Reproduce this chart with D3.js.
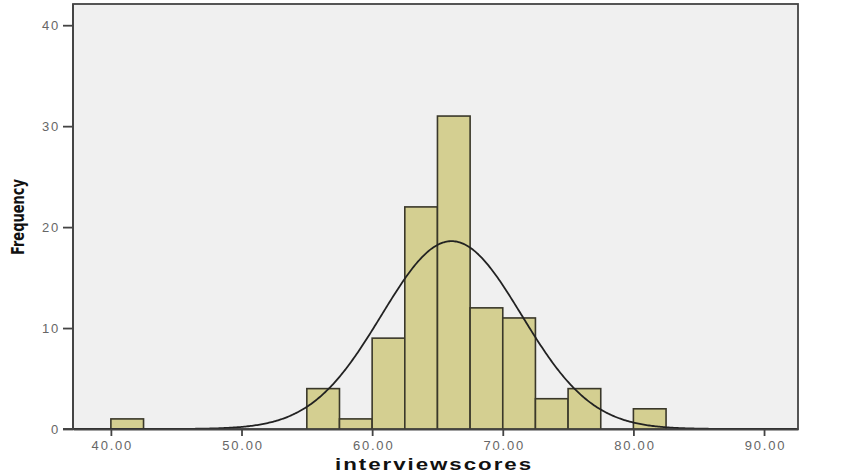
<!DOCTYPE html>
<html>
<head>
<meta charset="utf-8">
<script src="https://cdn.jsdelivr.net/npm/d3@7"></script>
<style>
  body { margin: 0; background: #fff; }
  svg text { font-family: "Liberation Sans", Arial, sans-serif; }
</style>
</head>
<body>
<div id="myChart"></div>
<script>
// histogram bins (lower edge, width 2.5) and counts
const binStarts = [40, 55, 57.5, 60, 62.5, 65, 67.5, 70, 72.5, 75, 80];
const counts = [1, 4, 1, 9, 22, 31, 12, 11, 3, 4, 2];
const binWidth = 2.5;
const xTicks = [40, 50, 60, 70, 80, 90];
const yTicks = [0, 10, 20, 30, 40];
const mean = 66.08, sd = 5.36, n = 100;

const W = 845, H = 474;
const margin = { top: 4, right: 47, bottom: 45, left: 73 },
  width = W - margin.left - margin.right,
  height = H - margin.top - margin.bottom;

const svg = d3.select("#myChart").append("svg")
  .attr("width", W).attr("height", H);
const g = svg.append("g")
  .attr("transform", "translate(" + margin.left + "," + margin.top + ")");

const x = d3.scaleLinear().domain([37.1, 92.6]).range([0, width]);
const y = d3.scaleLinear().domain([0, 42.1]).range([height, 0]);

// plot background + frame
g.append("rect")
  .attr("width", width).attr("height", height)
  .attr("fill", "#f0f0f0")
  .attr("stroke", "#444").attr("stroke-width", 1.8);

// bars
g.selectAll(".bar")
  .data(binStarts)
  .enter().append("rect")
  .attr("class", "bar")
  .attr("x", (d) => x(d))
  .attr("width", (d) => x(d + binWidth) - x(d))
  .attr("y", (d, i) => y(counts[i]))
  .attr("height", (d, i) => y(0) - y(counts[i]))
  .attr("fill", "#d4cf91")
  .attr("stroke", "#3a382a")
  .attr("stroke-width", 1.6);

// normal curve
const pts = d3.range(37.1, 92.6, 0.1).map((v) => [v,
  n * binWidth / (sd * Math.sqrt(2 * Math.PI)) * Math.exp(-0.5 * Math.pow((v - mean) / sd, 2))]);
g.append("path")
  .datum(pts)
  .attr("fill", "none")
  .attr("stroke", "#222")
  .attr("stroke-width", 1.8)
  .attr("d", d3.line().x((d) => x(d[0])).y((d) => y(d[1])));

// axes
const xAxis = g.append("g")
  .attr("transform", "translate(0," + height + ")")
  .call(d3.axisBottom(x).tickValues(xTicks).tickFormat(d3.format(".2f")).tickSize(7).tickSizeOuter(0));
const yAxis = g.append("g")
  .call(d3.axisLeft(y).tickValues(yTicks).tickSize(10).tickSizeOuter(0));

[xAxis, yAxis].forEach((a) => {
  a.select(".domain").attr("stroke", "#444").attr("stroke-width", 1.8);
  a.selectAll(".tick line").attr("stroke", "#444").attr("stroke-width", 1.8);
  a.selectAll("text")
    .attr("fill", "#666")
    .style("font-size", "13px")
    .style("letter-spacing", "1.8px")
    .style("font-family", "'Liberation Sans', Arial, sans-serif");
});
yAxis.select(".domain").attr("d", "M-10," + height + "H0V0");
xAxis.selectAll("text").attr("dy", "0.85em").attr("dx", "1px");
yAxis.selectAll("text").attr("dx", "0px");

// axis titles
svg.append("text")
  .attr("x", 434).attr("y", 470)
  .attr("text-anchor", "middle")
  .style("font-size", "17px")
  .style("font-weight", "bold")
  .style("letter-spacing", "1.5px")
  .attr("textLength", 198)
  .attr("lengthAdjust", "spacingAndGlyphs")
  .attr("fill", "#111")
  .text("interviewscores");

svg.append("text")
  .attr("transform", "translate(24,217) rotate(-90)")
  .attr("text-anchor", "middle")
  .style("font-family", "'Liberation Sans Narrow', 'DejaVu Sans Condensed', sans-serif")
  .style("font-size", "17px")
  .style("font-weight", "bold")
  .attr("textLength", 76)
  .attr("lengthAdjust", "spacingAndGlyphs")
  .attr("fill", "#111")
  .text("Frequency");
</script>
</body>
</html>
